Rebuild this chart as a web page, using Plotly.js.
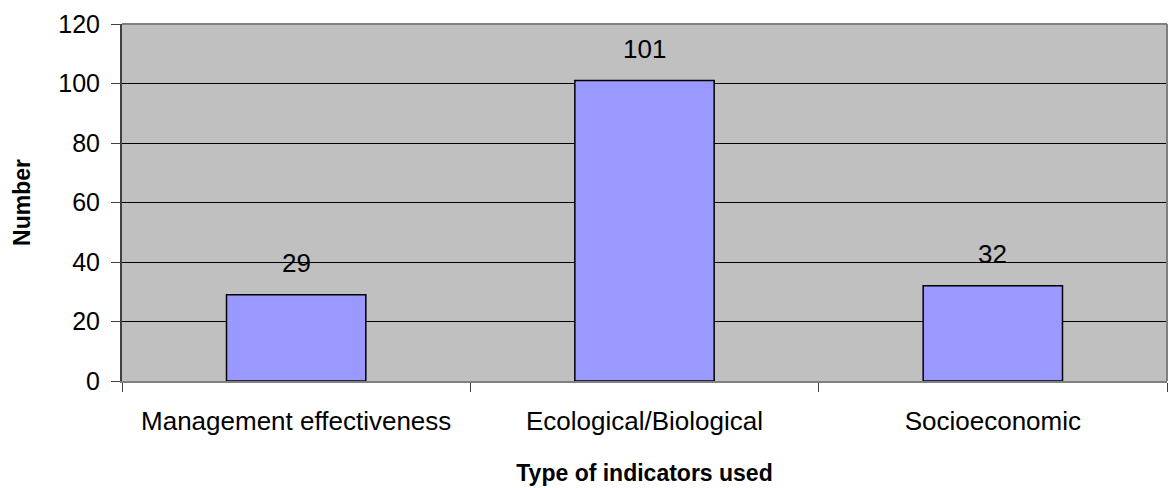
<!DOCTYPE html>
<html>
<head>
<meta charset="utf-8">
<script src="https://cdn.plot.ly/plotly-3.0.1.min.js"></script>
<style>html,body{margin:0;padding:0;background:#fff;}#chart{width:1171px;height:488px;}</style>
</head>
<body>
<div id="chart"></div>
<script>
const categories = ["Management effectiveness", "Ecological/Biological", "Socioeconomic"];
const values = [29, 101, 32];
const yTickVals = [0, 20, 40, 60, 80, 100, 120];
const xTitle = "Type of indicators used";
const yTitle = "Number";

const FONT = "Liberation Sans, Arial, sans-serif";

const trace = {
  type: "bar",
  x: categories,
  y: values,
  marker: { color: "#9999FF", line: { color: "#000000", width: 1.5 } },
  hoverinfo: "none"
};

const annotations = categories.map((c, i) => ({
  x: c, y: values[i], xref: "x", yref: "y",
  text: String(values[i]), showarrow: false,
  yanchor: "middle", yshift: 32,
  font: { family: FONT, size: 26, color: "#000" }
}));

const layout = {
  width: 1171, height: 488,
  margin: { l: 122, r: 4, t: 24, b: 107 },
  paper_bgcolor: "#ffffff",
  plot_bgcolor: "#C0C0C0",
  bargap: 0.6,
  showlegend: false,
  font: { family: FONT, color: "#000" },
  xaxis: {
    type: "category",
    tickson: "boundaries",
    ticks: "outside", ticklen: 9, tickcolor: "#404040", tickwidth: 1,
    showline: true, linecolor: "#808080", linewidth: 1.5,
    showgrid: false,
    ticklabelstandoff: 16,
    tickfont: { family: FONT, size: 26, color: "#000" },
    title: { text: xTitle, font: { family: FONT, size: 23, color: "#000", weight: "bold" }, standoff: 30 },
    automargin: false
  },
  yaxis: {
    range: [0, 120],
    tickvals: yTickVals,
    ticks: "outside", ticklen: 9, tickcolor: "#404040", tickwidth: 1,
    showline: true, linecolor: "#404040", linewidth: 2,
    showgrid: true, gridcolor: "#000000", gridwidth: 1,
    zeroline: false,
    ticklabelstandoff: 6,
    tickfont: { family: FONT, size: 25, color: "#000" },
    title: { text: yTitle, font: { family: FONT, size: 23, color: "#000", weight: "bold" }, standoff: 21 },
    automargin: false
  },
  shapes: [
    { type: "line", xref: "paper", yref: "paper", x0: 0, x1: 1, y0: 1, y1: 1, line: { color: "#808080", width: 2 } },
    { type: "line", xref: "paper", yref: "paper", x0: 1, x1: 1, y0: 0, y1: 1, line: { color: "#808080", width: 2 } }
  ],
  annotations: annotations
};

Plotly.newPlot("chart", [trace], layout, { displayModeBar: false, staticPlot: true });
</script>
</body>
</html>
